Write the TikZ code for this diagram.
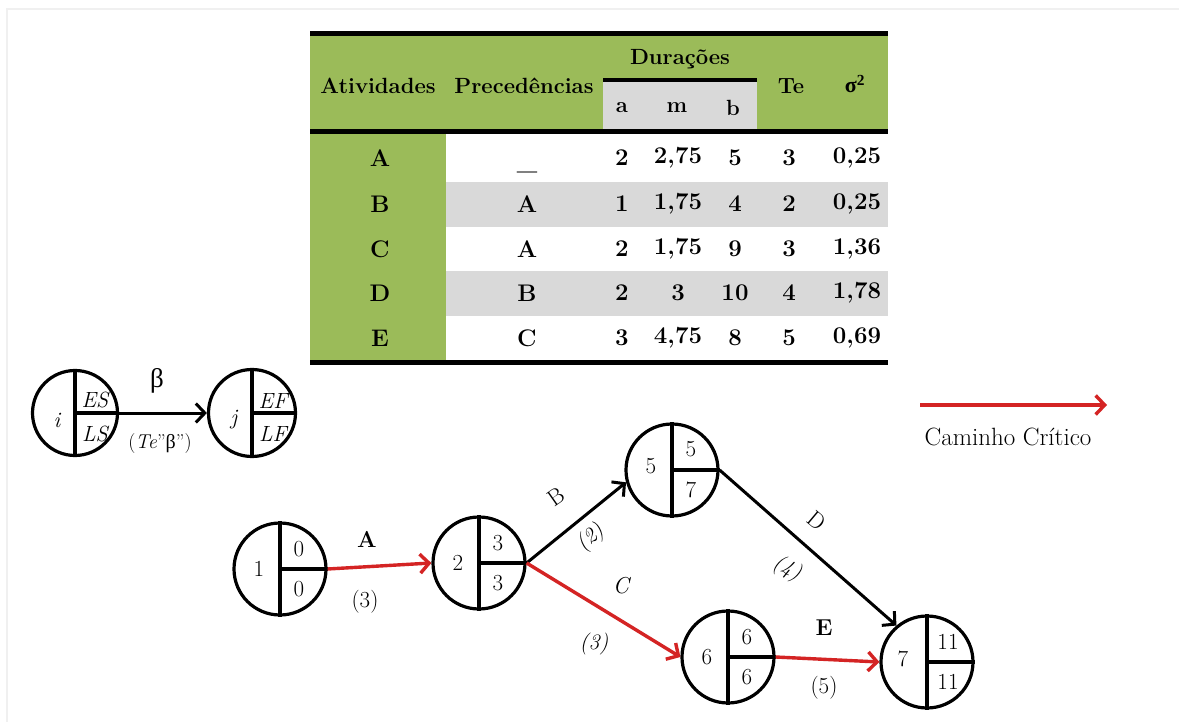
\documentclass[tikz,border=0pt]{standalone}
\usepackage{fontspec}
\newfontfamily\grk{Liberation Serif}
\usetikzlibrary{arrows.meta}
\definecolor{tgreen}{HTML}{9BBB59}
\definecolor{tgray}{HTML}{D9D9D9}
\definecolor{cpred}{HTML}{D42424}
\begin{document}
\begin{tikzpicture}[x=1pt,y=-1pt,
  circ/.style={circle,draw,line width=3.2pt,inner sep=0pt,minimum size=#1},
  thk/.style={line width=3.2pt},
  th/.style={font=\fontsize{22}{26}\selectfont\bfseries,inner sep=0pt},
  tb/.style={font=\fontsize{24}{28}\selectfont\bfseries,inner sep=0pt},
  nt/.style={font=\fontsize{23}{27}\selectfont,inner sep=0pt},
  lt/.style={font=\fontsize{22}{26}\selectfont\itshape,inner sep=0pt},
  redarr/.style={draw=cpred,line width=3.4pt,-{Straight Barb[length=9pt,width=19pt]}},
  blkarr/.style={draw=black,line width=3pt,-{Straight Barb[length=9pt,width=19pt]}},
]
\useasboundingbox (0,0) rectangle (1179,722);
\fill[white] (0,0) rectangle (1179,722);
% faint frame
\draw[gray!12,line width=2pt] (7,722) -- (7,9) -- (1179,9);

% ---------- table ----------
\fill[tgreen] (310,36) rectangle (888,129);
\fill[tgray] (603,82) rectangle (757,129);
\fill[tgreen] (310,134) rectangle (446,360);
\fill[tgray] (446,182) rectangle (888,227);
\fill[tgray] (446,271) rectangle (888,316);
\fill[black] (310,31) rectangle (888,36);
\fill[black] (603,78) rectangle (757,82);
\fill[black] (310,129) rectangle (888,134);
\fill[black] (310,360) rectangle (888,365);

\node[th] (h1) at (378,86) {Atividades};
\node[th] (h2) at (524,86) {Precedências};
\node[th] (h3) at (680,59) {Durações};
\node[th] (ha) at (622,108) {a};
\node[th] (hm) at (677,108) {m};
\node[th] (hb) at (733,108) {b};
\node[th] (hte) at (791,86) {Te};
\node[th] (hs) at (855,84) {\grk\bfseries σ\textsuperscript{2}};

% rows
\node[tb] (rA) at (380,158) {A};
\node[tb,anchor=base] (pA) at (527,170) {\_};
\node[tb] (aA) at (622,158) {2};
\node[tb] (mA) at (678,158) {2,75};
\node[tb] (bA) at (735,158) {5};
\node[tb] (tA) at (789,158) {3};
\node[tb] (sA) at (857,158) {0,25};

\node[tb] (rB) at (380,204) {B};
\node[tb] (pB) at (527,204) {A};
\node[tb] (aB) at (622,204) {1};
\node[tb] (mB) at (678,204) {1,75};
\node[tb] (bB) at (735,204) {4};
\node[tb] (tB) at (789,204) {2};
\node[tb] (sB) at (857,204) {0,25};

\node[tb] (rC) at (380,249) {C};
\node[tb] (pC) at (527,249) {A};
\node[tb] (aC) at (622,249) {2};
\node[tb] (mC) at (678,249) {1,75};
\node[tb] (bC) at (735,249) {9};
\node[tb] (tC) at (789,249) {3};
\node[tb] (sC) at (857,249) {1,36};

\node[tb] (rD) at (380,293) {D};
\node[tb] (pD) at (527,293) {B};
\node[tb] (aD) at (622,293) {2};
\node[tb] (mD) at (678,293) {3};
\node[tb] (bD) at (735,293) {10};
\node[tb] (tD) at (789,293) {4};
\node[tb] (sD) at (857,293) {1,78};

\node[tb] (rE) at (380,338) {E};
\node[tb] (pE) at (527,338) {C};
\node[tb] (aE) at (622,338) {3};
\node[tb] (mE) at (678,338) {4,75};
\node[tb] (bE) at (735,338) {8};
\node[tb] (tE) at (789,338) {5};
\node[tb] (sE) at (857,338) {0,69};

% ---------- legend node pair ----------
\node[circ=85pt] (li) at (75,413) {};
\draw[thk] (li.north) -- (li.south) (li.center) -- (li.east);
\node[circ=87pt] (lj) at (252,413) {};
\draw[thk] (lj.north) -- (lj.south) (lj.center) -- (lj.east);
\node[lt] (ti) at (57,420) {i};
\node[lt] (tes) at (95,400) {ES};
\node[lt] (tls) at (95,434) {LS};
\node[lt] (tj) at (234,420) {j};
\node[lt] (tef) at (273,401) {EF};
\node[lt] (tlf) at (273,434) {LF};
\draw[blkarr] (li.east) -- (lj.west);
\node[inner sep=0pt,font=\fontsize{27}{30}\selectfont\grk] (beta) at (157,381) {β};
\node[inner sep=0pt,font=\fontsize{20}{24}\selectfont] (tebeta) at (160,444) {(\textit{Te}''{\grk β}'')};

% critical path legend
\coordinate (cp1) at (920,405);
\coordinate (cp2) at (1107,405);
\draw[redarr] (cp1) -- (cp2);
\node[inner sep=0pt,font=\fontsize{25}{29}\selectfont] (cpt) at (1008,437) {Caminho Crítico};

% ---------- network ----------
\node[circ=92pt] (n1) at (280,569) {};
\node[circ=92pt] (n2) at (479,563) {};
\node[circ=92pt] (n5) at (672,470) {};
\node[circ=92pt] (n6) at (728,657) {};
\node[circ=92pt] (n7) at (927,662) {};
\foreach \n in {n1,n2,n5,n6,n7}{
  \draw[thk] (\n.north) -- (\n.south) (\n.center) -- (\n.east);
}
\node[nt] at ([xshift=-21pt]n1.center) {1};
\node[nt] at ([xshift=19pt,yshift=20pt]n1.center) {0};
\node[nt] at ([xshift=19pt,yshift=-20pt]n1.center) {0};
\node[nt] at ([xshift=-21pt]n2.center) {2};
\node[nt] at ([xshift=19pt,yshift=20pt]n2.center) {3};
\node[nt] at ([xshift=19pt,yshift=-20pt]n2.center) {3};
\node[nt] at ([xshift=-21pt,yshift=4pt]n5.center) {5};
\node[nt] at ([xshift=19pt,yshift=21pt]n5.center) {5};
\node[nt] at ([xshift=19pt,yshift=-20pt]n5.center) {7};
\node[nt] at ([xshift=-21pt]n6.center) {6};
\node[nt] at ([xshift=19pt,yshift=20pt]n6.center) {6};
\node[nt] at ([xshift=19pt,yshift=-20pt]n6.center) {6};
\node[nt] at ([xshift=-24pt,yshift=3pt]n7.center) {7};
\node[nt] at ([xshift=21pt,yshift=20pt]n7.center) {11};
\node[nt] at ([xshift=21pt,yshift=-20pt]n7.center) {11};

\draw[redarr] (n1.east) -- (n2.west);
\draw[blkarr] (n2.east) -- (n5.195);
\draw[redarr] (n2.east) -- (n6.west);
\draw[blkarr] (n5.east) -- (n7.130);
\draw[redarr] (n6.east) -- (n7.west);

\node[nt,font=\fontsize{23}{27}\selectfont\bfseries] (lA) at (367,539) {A};
\node[nt] (dA) at (365,602) {(3)};
\node[nt,rotate=35] (lB) at (556,497) {B};
\node[nt,rotate=40,font=\fontsize{22}{26}\selectfont\itshape] (dB) at (591,538) {(2)};
\node[nt,font=\fontsize{23}{27}\selectfont\itshape] (lC) at (621,586) {C};
\node[nt,font=\fontsize{22}{26}\selectfont\itshape] (dC) at (594,644) {(3)};
\node[nt,rotate=-40] (lD) at (817,521) {D};
\node[nt,rotate=-25,font=\fontsize{22}{26}\selectfont\itshape] (dD) at (787,569) {(4)};
\node[nt,font=\fontsize{23}{27}\selectfont\bfseries] (lE) at (824,628) {E};
\node[nt] (dE) at (824,688) {(5)};
\end{tikzpicture}
\end{document}
